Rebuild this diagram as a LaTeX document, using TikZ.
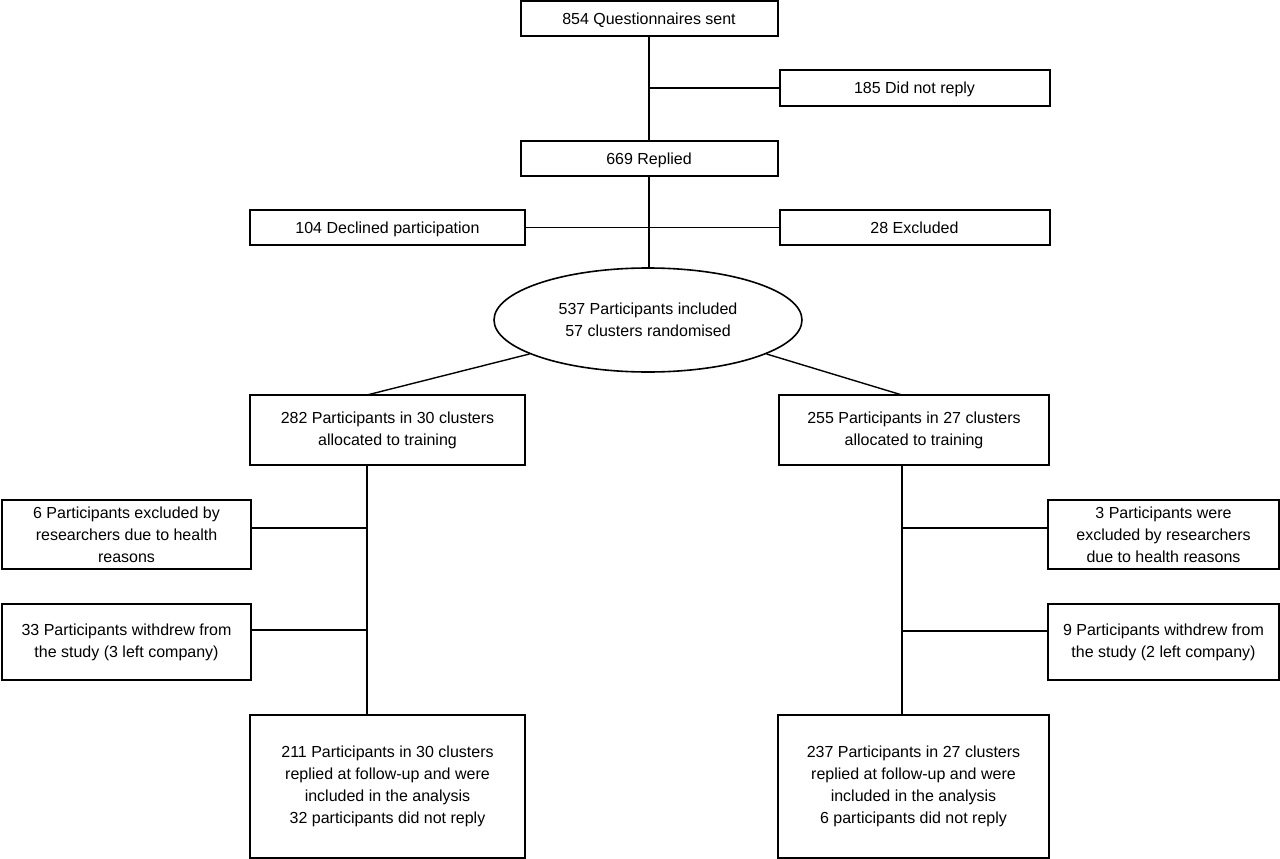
\documentclass[tikz,border=0pt]{standalone}
\usepackage{fontspec}
\setmainfont{Liberation Sans}
\usetikzlibrary{shapes.geometric}
\begin{document}
\begin{tikzpicture}[x=1pt,y=-1pt,
  box/.style={draw=black, line width=2pt, rectangle, inner sep=0pt, align=center,
    font=\fontsize{16}{22}\selectfont},
  onebox/.style={box, text height=11.5pt, text depth=0pt},
  oval/.style={draw=black, line width=1.6pt, ellipse, inner sep=0pt, align=center,
    font=\fontsize{16}{22}\selectfont},
  conn/.style={draw=black, line width=1.4pt}]
\useasboundingbox (0,0) rectangle (1280,859);
\fill[white] (0,0) rectangle (1280,859);

\node[onebox, minimum width=257pt, minimum height=35pt] (A) at (649,19) {854 Questionnaires sent};
\node[onebox, minimum width=270pt, minimum height=35pt] (B) at (914.5,88) {185 Did not reply};
\node[onebox, minimum width=257pt, minimum height=35pt] (C) at (649,158.5) {669 Replied};
\node[onebox, minimum width=275pt, minimum height=35pt] (decl) at (387.5,227.5) {104 Declined participation};
\node[onebox, minimum width=270pt, minimum height=35pt] (excl) at (914.5,227.5) {28 Excluded};
\node[oval, minimum width=308pt, minimum height=104pt] (ell) at (648,320) {537 Participants included\\57 clusters randomised};
\node[box, minimum width=275pt, minimum height=70pt] (D) at (387.5,430) {282 Participants in 30 clusters\\allocated to training};
\node[box, minimum width=270pt, minimum height=70pt] (E) at (914,430) {255 Participants in 27 clusters\\allocated to training};
\node[box, minimum width=249pt, minimum height=69pt] (F) at (126.5,534.5) {6 Participants excluded by\\researchers due to health\\reasons};
\node[box, minimum width=249pt, minimum height=76pt] (G) at (126.5,642) {33 Participants withdrew from\\the study (3 left company)};
\node[box, minimum width=231pt, minimum height=69pt] (I) at (1163.5,534.5) {3 Participants were\\excluded by researchers\\due to health reasons};
\node[box, minimum width=231pt, minimum height=76pt] (J) at (1163.5,642) {9 Participants withdrew from\\the study (2 left company)};
\node[box, minimum width=275pt, minimum height=143pt] (H) at (387.5,786.5) {211 Participants in 30 clusters\\replied at follow-up and were\\included in the analysis\\32 participants did not reply};
\node[box, minimum width=271pt, minimum height=143pt] (K) at (913.5,786.5) {237 Participants in 27 clusters\\replied at follow-up and were\\included in the analysis\\6 participants did not reply};

\coordinate (LT) at (367,395);
\coordinate (RT) at (902,395);

\draw[conn] (A.south) -- (C.north);
\draw[conn] (A.south |- B.west) -- (B.west);
\draw[conn] (decl.east) -- (excl.west);
\draw[conn] (C.south) -- (C.south |- ell.north);
\draw[conn] (ell.196) -- (LT);
\draw[conn] (ell.344) -- (RT);
\draw[conn] (D.south -| LT) -- (H.north -| LT);
\draw[conn] (E.south -| RT) -- (K.north -| RT);
\draw[conn] ([yshift=6.5pt]F.east) -- ([yshift=6.5pt]F.east -| LT);
\draw[conn] ([yshift=12pt]G.east) -- ([yshift=12pt]G.east -| LT);
\draw[conn] ([yshift=6.5pt]I.west) -- ([yshift=6.5pt]I.west -| RT);
\draw[conn] ([yshift=11pt]J.west) -- ([yshift=11pt]J.west -| RT);
\end{tikzpicture}
\end{document}
